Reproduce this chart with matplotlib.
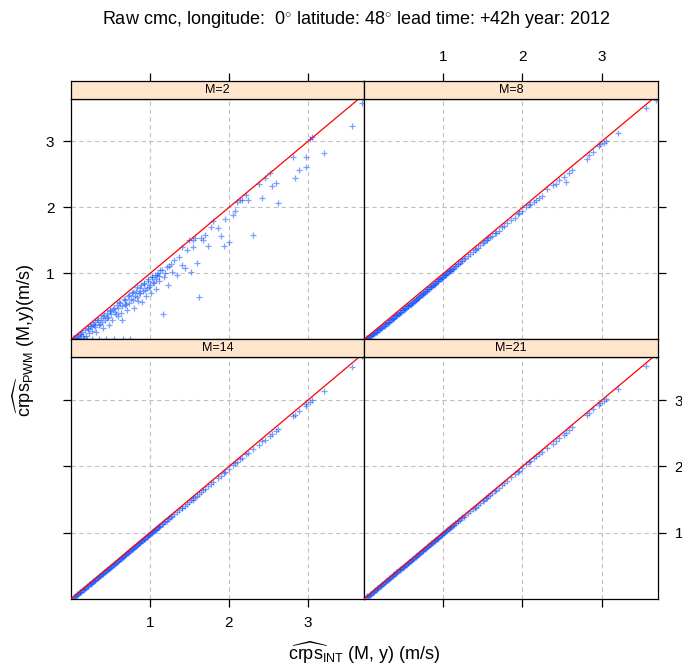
import numpy as np
import matplotlib
matplotlib.use('Agg')
import matplotlib.pyplot as plt

plt.rcParams['font.family'] = ['Liberation Sans', 'DejaVu Sans']
plt.rcParams['mathtext.fontset'] = 'custom'
plt.rcParams['mathtext.rm'] = 'Liberation Sans'
plt.rcParams['mathtext.it'] = 'Liberation Sans:italic'

# crps INT (x) shared across panels
crps_int = [
    0.03, 0.05, 0.07, 0.08, 0.10, 0.11, 0.12, 0.14, 0.15, 0.16,
    0.18, 0.19, 0.20, 0.22, 0.23, 0.24, 0.26, 0.27, 0.28, 0.30,
    0.31, 0.32, 0.34, 0.35, 0.36, 0.38, 0.39, 0.40, 0.42, 0.43,
    0.44, 0.46, 0.47, 0.48, 0.50, 0.51, 0.52, 0.54, 0.55, 0.56,
    0.58, 0.59, 0.60, 0.62, 0.63, 0.65, 0.66, 0.68, 0.69, 0.71,
    0.72, 0.74, 0.75, 0.77, 0.78, 0.80, 0.82, 0.83, 0.85, 0.87,
    0.88, 0.90, 0.92, 0.94, 0.95, 0.97, 0.99, 1.01, 1.03, 1.05,
    1.07, 1.09, 1.11, 1.13, 1.16, 1.18, 1.21, 1.23, 1.26, 1.28,
    1.31, 1.34, 1.37, 1.40, 1.41, 1.44, 1.47, 1.50, 1.52, 1.54,
    1.55, 1.57, 1.59, 1.62, 1.65, 1.67, 1.70, 1.74, 1.77, 1.80,
    1.86, 1.90, 1.94, 1.95, 2.00, 2.05, 2.08, 2.10, 2.14, 2.17,
    2.21, 2.24, 2.31, 2.38, 2.42, 2.46, 2.52, 2.55, 2.59, 2.62,
    2.81, 2.84, 2.89, 2.97, 2.98, 3.03, 3.05, 3.20, 3.56, 3.69,
    0.04, 0.06, 0.09, 0.13, 0.17, 0.21, 0.25, 0.29, 0.33, 0.37,
    0.41, 0.45, 0.49, 0.53, 0.57, 0.61, 0.64, 0.67, 0.70, 0.73,
    0.76, 0.79, 0.81, 0.84, 0.86, 0.89, 0.91, 0.93, 0.96, 0.98,
    1.00, 1.02, 1.04, 1.06, 1.08, 1.10, 1.12, 1.15, 1.19, 1.24,
]

# crps PWM (y) for each ensemble size
pwm_m2 = [
    0.02, 0.01, 0.05, 0.00, 0.00, 0.08, 0.03, 0.11, 0.06, 0.00,
    0.14, 0.05, 0.00, 0.18, 0.10, 0.21, 0.13, 0.00, 0.24, 0.19,
    0.27, 0.12, 0.30, 0.22, 0.00, 0.33, 0.26, 0.17, 0.37, 0.30,
    0.00, 0.40, 0.34, 0.22, 0.45, 0.38, 0.29, 0.48, 0.00, 0.42,
    0.52, 0.35, 0.47, 0.56, 0.40, 0.30, 0.00, 0.60, 0.52, 0.44,
    0.66, 0.55, 0.01, 0.70, 0.60, 0.48, 0.74, 0.65, 0.58, 0.78,
    0.70, 0.57, 0.84, 0.75, 0.66, 0.88, 0.80, 0.70, 0.94, 0.85,
    0.76, 0.98, 0.88, 1.05, 0.38, 0.95, 1.10, 0.82, 1.15, 1.02,
    1.20, 0.98, 1.25, 1.40, 1.13, 1.08, 1.36, 1.51, 1.02, 1.51,
    1.40, 1.53, 1.16, 0.64, 1.54, 1.50, 1.58, 1.41, 1.70, 1.80,
    1.69, 1.56, 1.41, 1.83, 1.48, 1.89, 1.94, 2.09, 2.12, 2.11,
    2.19, 2.11, 1.59, 2.35, 2.14, 2.45, 2.52, 2.32, 2.37, 2.07,
    2.77, 2.45, 2.57, 2.61, 2.76, 3.03, 3.06, 2.83, 3.23, 3.58,
    0.03, 0.00, 0.07, 0.09, 0.00, 0.16, 0.20, 0.22, 0.29, 0.24,
    0.36, 0.32, 0.43, 0.46, 0.38, 0.57, 0.50, 0.62, 0.54, 0.68,
    0.62, 0.72, 0.66, 0.79, 0.70, 0.83, 0.73, 0.86, 0.78, 0.92,
    0.82, 0.95, 0.87, 0.97, 0.92, 1.01, 0.96, 1.06, 1.00, 1.12,
]
pwm_m8 = [
    0.02, 0.03, 0.05, 0.06, 0.07, 0.08, 0.09, 0.11, 0.12, 0.12,
    0.14, 0.15, 0.16, 0.18, 0.19, 0.20, 0.21, 0.23, 0.24, 0.25,
    0.27, 0.27, 0.29, 0.31, 0.31, 0.33, 0.35, 0.35, 0.37, 0.39,
    0.39, 0.42, 0.41, 0.44, 0.45, 0.47, 0.46, 0.50, 0.50, 0.51,
    0.54, 0.53, 0.56, 0.57, 0.58, 0.61, 0.60, 0.63, 0.65, 0.66,
    0.68, 0.69, 0.71, 0.72, 0.74, 0.76, 0.77, 0.79, 0.80, 0.83,
    0.83, 0.86, 0.88, 0.89, 0.92, 0.92, 0.95, 0.97, 0.98, 1.01,
    1.03, 1.04, 1.07, 1.09, 1.11, 1.14, 1.16, 1.19, 1.22, 1.23,
    1.27, 1.29, 1.33, 1.35, 1.37, 1.39, 1.43, 1.46, 1.47, 1.50,
    1.50, 1.53, 1.55, 1.57, 1.61, 1.62, 1.65, 1.70, 1.72, 1.76,
    1.81, 1.84, 1.90, 1.91, 1.94, 2.00, 2.03, 2.05, 2.09, 2.11,
    2.15, 2.17, 2.28, 2.34, 2.35, 2.41, 2.46, 2.39, 2.52, 2.56,
    2.74, 2.80, 2.84, 2.93, 2.96, 2.98, 3.00, 3.12, 3.50, 3.63,
    0.03, 0.04, 0.07, 0.10, 0.14, 0.18, 0.21, 0.25, 0.29, 0.33,
    0.37, 0.40, 0.44, 0.48, 0.52, 0.56, 0.59, 0.62, 0.65, 0.68,
    0.71, 0.74, 0.76, 0.79, 0.81, 0.84, 0.86, 0.88, 0.91, 0.93,
    0.95, 0.97, 0.99, 1.02, 1.03, 1.05, 1.07, 1.11, 1.14, 1.19,
]
pwm_m14 = [
    0.02, 0.04, 0.06, 0.07, 0.09, 0.10, 0.11, 0.13, 0.14, 0.15,
    0.17, 0.17, 0.19, 0.20, 0.22, 0.23, 0.24, 0.26, 0.27, 0.28,
    0.29, 0.30, 0.32, 0.33, 0.34, 0.36, 0.37, 0.38, 0.40, 0.41,
    0.42, 0.44, 0.45, 0.46, 0.48, 0.49, 0.50, 0.52, 0.53, 0.54,
    0.56, 0.57, 0.58, 0.60, 0.61, 0.63, 0.64, 0.66, 0.67, 0.69,
    0.70, 0.72, 0.73, 0.75, 0.76, 0.78, 0.80, 0.81, 0.83, 0.84,
    0.86, 0.88, 0.90, 0.91, 0.93, 0.95, 0.97, 0.99, 1.01, 1.02,
    1.04, 1.07, 1.09, 1.10, 1.13, 1.16, 1.18, 1.21, 1.23, 1.25,
    1.28, 1.31, 1.34, 1.37, 1.38, 1.41, 1.44, 1.47, 1.49, 1.50,
    1.52, 1.54, 1.56, 1.59, 1.61, 1.64, 1.66, 1.70, 1.73, 1.77,
    1.82, 1.86, 1.90, 1.92, 1.96, 2.02, 2.05, 2.06, 2.11, 2.13,
    2.18, 2.20, 2.26, 2.32, 2.38, 2.40, 2.46, 2.49, 2.53, 2.57,
    2.76, 2.78, 2.84, 2.91, 2.94, 2.97, 3.00, 3.13, 3.50, 3.66,
    0.03, 0.05, 0.08, 0.11, 0.15, 0.19, 0.23, 0.27, 0.31, 0.35,
    0.39, 0.43, 0.47, 0.51, 0.55, 0.59, 0.62, 0.65, 0.68, 0.71,
    0.74, 0.77, 0.79, 0.82, 0.84, 0.87, 0.89, 0.91, 0.94, 0.96,
    0.98, 1.00, 1.02, 1.04, 1.06, 1.08, 1.10, 1.13, 1.17, 1.22,
]
pwm_m21 = [
    0.03, 0.04, 0.06, 0.07, 0.09, 0.10, 0.11, 0.13, 0.14, 0.15,
    0.17, 0.18, 0.19, 0.21, 0.22, 0.23, 0.25, 0.26, 0.27, 0.29,
    0.30, 0.31, 0.33, 0.34, 0.35, 0.37, 0.38, 0.39, 0.41, 0.42,
    0.43, 0.45, 0.46, 0.47, 0.49, 0.50, 0.51, 0.53, 0.54, 0.55,
    0.57, 0.58, 0.59, 0.61, 0.62, 0.64, 0.65, 0.67, 0.68, 0.70,
    0.71, 0.73, 0.74, 0.76, 0.77, 0.79, 0.81, 0.82, 0.84, 0.86,
    0.87, 0.89, 0.91, 0.92, 0.94, 0.96, 0.98, 1.00, 1.02, 1.04,
    1.05, 1.08, 1.10, 1.12, 1.14, 1.17, 1.19, 1.22, 1.24, 1.26,
    1.29, 1.32, 1.35, 1.38, 1.39, 1.42, 1.45, 1.48, 1.50, 1.52,
    1.53, 1.55, 1.57, 1.60, 1.63, 1.65, 1.68, 1.72, 1.75, 1.78,
    1.84, 1.88, 1.92, 1.93, 1.97, 2.03, 2.06, 2.08, 2.12, 2.15,
    2.19, 2.21, 2.28, 2.34, 2.39, 2.43, 2.48, 2.51, 2.55, 2.59,
    2.78, 2.80, 2.86, 2.93, 2.95, 2.99, 3.02, 3.16, 3.52, 3.66,
    0.04, 0.05, 0.08, 0.12, 0.16, 0.20, 0.24, 0.28, 0.32, 0.36,
    0.40, 0.44, 0.48, 0.52, 0.56, 0.60, 0.63, 0.66, 0.69, 0.72,
    0.75, 0.78, 0.80, 0.83, 0.85, 0.88, 0.90, 0.92, 0.95, 0.97,
    0.99, 1.01, 1.03, 1.05, 1.07, 1.09, 1.11, 1.14, 1.18, 1.23,
]

panel_names = ['M=2', 'M=8', 'M=14', 'M=21']
tick_vals = [1, 2, 3]

W, H = 682, 669
fig = plt.figure(figsize=(W / 100, H / 100), dpi=100)


def fx(px):
    return px / W


def fy(py):
    return 1 - py / H


# panel pixel boxes: (left, top, right, bottom)
boxes = {
    'M=2': (71, 98.5, 364, 339.5),
    'M=8': (364, 98.5, 658, 339.5),
    'M=14': (71, 357, 364, 599),
    'M=21': (364, 357, 658, 599),
}
strip_h = 18
ydata = {'M=2': pwm_m2, 'M=8': pwm_m8, 'M=14': pwm_m14, 'M=21': pwm_m21}

# lattice-style alternating axes: (side with labels, side with ticks only)
sides = {
    'M=2': ('left', 'top'),
    'M=8': ('top', 'right'),
    'M=14': ('bottom', 'left'),
    'M=21': ('right', 'bottom'),
}

xmax, ymax = 3.71, 3.65
for name in panel_names:
    l, t, r, b = boxes[name]
    ax = fig.add_axes([fx(l), fy(b), fx(r) - fx(l), fy(t) - fy(b)])
    ax.set_xlim(0, xmax)
    ax.set_ylim(0, ymax)
    ax.grid(True, color='#c0c0c0', linestyle=(0, (4, 3)), linewidth=0.8)
    ax.set_axisbelow(True)
    ax.scatter(crps_int, ydata[name], marker='+', s=16, linewidths=0.9,
               color='#0d50ff', alpha=0.55, zorder=2)
    ax.plot([0, ymax], [0, ymax], color='red', linewidth=0.9, zorder=3)
    ax.set_xticks(tick_vals)
    ax.set_yticks(tick_vals)
    for sp in ax.spines.values():
        sp.set_linewidth(0.9)

    lab, tk = sides[name]
    ax.tick_params(axis='both', direction='out', length=6, width=0.9,
                   labelsize=11, pad=6,
                   bottom=False, top=False, left=False, right=False,
                   labelbottom=False, labeltop=False, labelleft=False, labelright=False)

    # strip on top of panel; top ticks go on the strip
    sax = fig.add_axes([fx(l), fy(t), fx(r) - fx(l), fy(t - strip_h) - fy(t)])
    sax.set_facecolor('#ffe5cc')
    sax.set_xlim(0, xmax)
    sax.set_xticks(tick_vals)
    sax.set_yticks([])
    sax.tick_params(axis='x', direction='out', length=6, width=0.9,
                    labelsize=11, pad=6, bottom=False, labelbottom=False,
                    top=False, labeltop=False)
    for sp in sax.spines.values():
        sp.set_linewidth(0.9)
    sax.text(0.5, 0.48, name, ha='center', va='center', fontsize=9,
             transform=sax.transAxes)

    for side, show_label in ((lab, True), (tk, False)):
        if side == 'top':
            sax.tick_params(axis='x', top=True, labeltop=show_label)
        else:
            ax.tick_params(**{side: True, 'label' + side: show_label})

fig.text(fx(356), fy(19),
         'Raw cmc, longitude:  0$^{\\circ}$ latitude: 48$^{\\circ}$ lead time: +42h year: 2012',
         ha='center', va='center', fontsize=13)
fig.text(fx(364), fy(653),
         r'$\widehat{\mathrm{crps}}_{\mathrm{INT}}$ (M, y) (m/s)',
         ha='center', va='center', fontsize=13)
fig.text(fx(24), fy(340),
         r'$\widehat{\mathrm{crps}}_{\mathrm{PWM}}$ (M,y)(m/s)',
         ha='center', va='center', rotation=90, fontsize=13)

fig.savefig('out.png', dpi=100)
